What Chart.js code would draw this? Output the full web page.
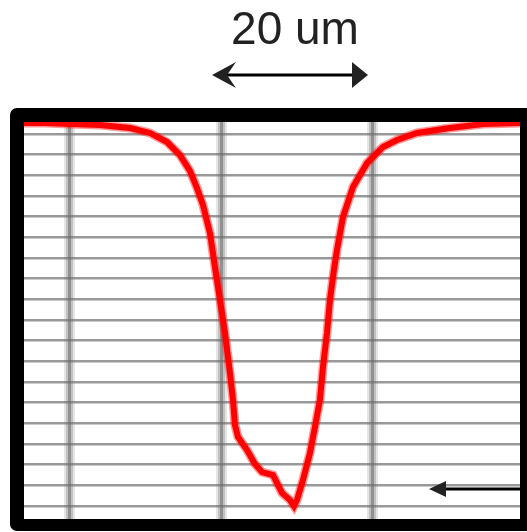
<!DOCTYPE html>
<html>
<head>
<meta charset="utf-8">
<script src="https://cdn.jsdelivr.net/npm/chart.js@4"></script>
<style>
html,body{margin:0;padding:0;background:#fff;}
#wrap{width:527px;height:532px;position:relative;}
</style>
</head>
<body>
<div id="wrap"><canvas id="c" width="527" height="532"></canvas></div>
<script>
// Profile position (um) and relative depth (grid units)
const profileX = [-6.07,-3.30,0,3.96,7.92,10.56,12.81,14.52,15.84,16.77,17.56,18.48,19.14,19.80,20.46,21.12,21.52,21.78,22.18,23.37,24.42,25.35,26.80,27.33,27.99,29.04,29.57,29.97,30.76,31.68,32.34,33.00,33.40,33.93,34.32,34.85,35.25,36.04,37.36,39.21,41.32,43.17,45.81,50.17,54.52,59.41];
const profileY = [18.53,18.53,18.48,18.43,18.29,18.05,17.61,16.98,16.21,15.38,14.56,13.21,11.56,9.97,8.37,6.44,5.13,3.92,3.34,2.71,2.03,1.64,1.50,1.11,0.63,0.29,0,0.29,1.26,2.56,3.82,5.13,6.72,8.37,9.97,11.42,12.39,13.98,15.43,16.59,17.37,17.71,18.05,18.29,18.48,18.53];
const xGrid = [0,20,40];
const yGrid = [0,1,2,3,4,5,6,7,8,9,10,11,12,13,14,15,16,17,18];
const scaleLabel = "20 um";

const X_MIN = -6.07, X_MAX = 59.41, Y_MIN = -0.63, Y_MAX = 18.58;

const setTicks = vals => (axis) => { axis.ticks = vals.map(v => ({value: v})); };

function xAxis(id, width, color) {
  return {
    type: 'linear', min: X_MIN, max: X_MAX, position: 'bottom',
    afterBuildTicks: setTicks(xGrid),
    ticks: {display: false},
    border: {display: false},
    grid: {display: true, drawTicks: false, lineWidth: width, color: color}
  };
}

const annot = {
  id: 'annot',
  afterDraw(chart) {
    const ctx = chart.ctx, a = chart.chartArea;
    const xs = chart.scales.x, ys = chart.scales.y;
    ctx.save();
    // frame
    ctx.fillStyle = '#000';
    ctx.beginPath();
    ctx.roundRect(a.left - 14, a.top - 14, (a.right - a.left) + 30, (a.bottom - a.top) + 26, 7);
    ctx.rect(a.left, a.top, a.right - a.left, a.bottom - a.top);
    ctx.fill('evenodd');
    // label
    ctx.fillStyle = '#222';
    ctx.font = '46px "Liberation Sans", Arial, sans-serif';
    ctx.textAlign = 'center';
    ctx.textBaseline = 'alphabetic';
    ctx.fillText(scaleLabel, 295, 44);
    // scale-bar arrow
    const l = xs.getPixelForValue(18.75), r = xs.getPixelForValue(39.34), y0 = 75;
    ctx.strokeStyle = '#000'; ctx.lineWidth = 3;
    ctx.beginPath(); ctx.moveTo(l + 12, y0); ctx.lineTo(r - 12, y0); ctx.stroke();
    ctx.beginPath();
    ctx.moveTo(l, y0); ctx.lineTo(l + 24, y0 - 13); ctx.lineTo(l + 15, y0); ctx.lineTo(l + 24, y0 + 13); ctx.closePath(); ctx.fill();
    ctx.beginPath();
    ctx.moveTo(r, y0); ctx.lineTo(r - 16, y0 - 13); ctx.lineTo(r - 16, y0 + 13); ctx.closePath(); ctx.fill();
    // bottom-right arrow
    const t = xs.getPixelForValue(47.4), yb = ys.getPixelForValue(0.82);
    ctx.beginPath(); ctx.moveTo(t + 10, yb); ctx.lineTo(a.right, yb); ctx.stroke();
    ctx.beginPath();
    ctx.moveTo(t, yb); ctx.lineTo(t + 17, yb - 8); ctx.lineTo(t + 17, yb + 8); ctx.closePath(); ctx.fill();
    ctx.restore();
  }
};

new Chart(document.getElementById('c'), {
  type: 'line',
  data: {
    datasets: [
      {data: profileX.map((x, i) => ({x, y: profileY[i]})), borderColor: 'rgba(255,0,0,0.4)', borderWidth: 9, pointRadius: 0, tension: 0, xAxisID: 'x', yAxisID: 'y'},
      {data: profileX.map((x, i) => ({x, y: profileY[i]})), borderColor: '#ff0000', borderWidth: 6, pointRadius: 0, tension: 0, xAxisID: 'x', yAxisID: 'y'}
    ]
  },
  options: {
    responsive: false, animation: false,
    layout: {padding: {left: 24, top: 122, right: 7, bottom: 13}},
    plugins: {legend: {display: false}, tooltip: {enabled: false}, title: {display: false}},
    scales: {
      x: xAxis('x', 11, 'rgba(0,0,0,0.1)'),
      x2: xAxis('x2', 7, 'rgba(0,0,0,0.16)'),
      x3: xAxis('x3', 3, 'rgba(0,0,0,0.25)'),
      y: {
        type: 'linear', min: Y_MIN, max: Y_MAX,
        afterBuildTicks: setTicks(yGrid),
        ticks: {display: false},
        border: {display: false},
        grid: {drawTicks: false, lineWidth: 2.5, color: 'rgba(110,110,110,0.7)'}
      }
    }
  },
  plugins: [annot]
});
</script>
</body>
</html>
